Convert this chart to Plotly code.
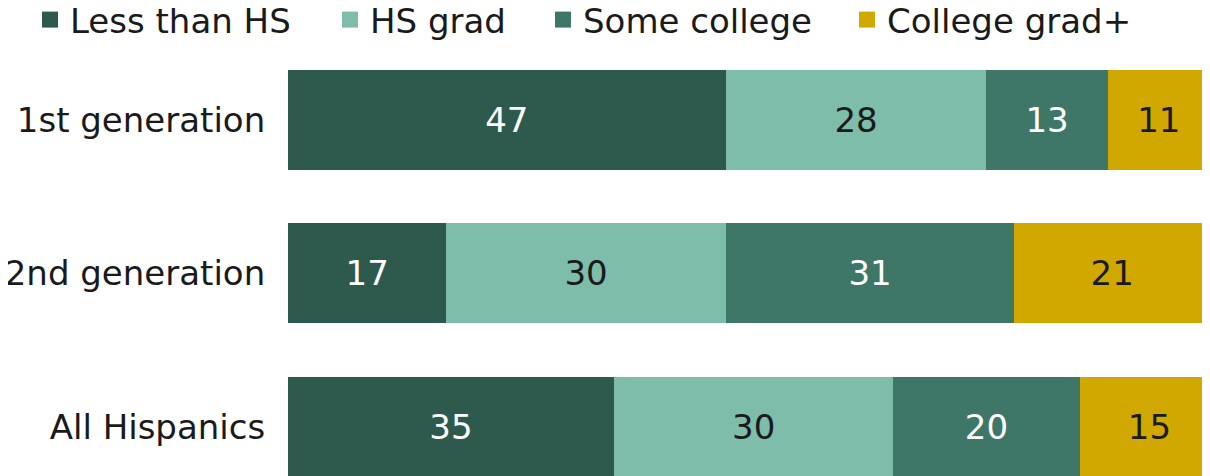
import plotly.graph_objects as go

categories = ["1st generation", "2nd generation", "All Hispanics"]
series_names = ["Less than HS", "HS grad", "Some college", "College grad+"]
less_than_hs = [47, 17, 35]
hs_grad = [28, 30, 30]
some_college = [13, 31, 20]
college_grad = [11, 21, 15]

colors = ["#2D5A4D", "#7DBDAA", "#3E7767", "#D1A800"]
label_colors = ["white", "#1a1a1a", "white", "#1a1a1a"]
font_family = "Verdana, DejaVu Sans, sans-serif"
FS = 34

fig = go.Figure()
for name, vals, col, lcol in zip(series_names,
                                 [less_than_hs, hs_grad, some_college, college_grad],
                                 colors, label_colors):
    fig.add_trace(go.Bar(
        y=categories, x=vals, name=name, orientation="h",
        marker=dict(color=col, line=dict(width=0)),
        text=vals, textposition="inside", insidetextanchor="middle",
        textangle=0, textfont=dict(color=lcol, size=FS, family=font_family),
        hoverinfo="skip", showlegend=False,
    ))

# one legend per entry, so each swatch sits where the reference has it
legend_ids = ["legend", "legend2", "legend3", "legend4"]
legend_x = [22, 322, 535, 839]
for name, col, lid in zip(series_names, colors, legend_ids):
    fig.add_trace(go.Scatter(
        x=[None], y=[None], mode="markers", name=name, legend=lid,
        marker=dict(symbol="square", size=18, color=col),
        hoverinfo="skip",
    ))

fig.update_layout(
    width=1210, height=476,
    barmode="stack", bargap=0.35,
    plot_bgcolor="white", paper_bgcolor="white",
    margin=dict(l=280, r=8, t=35, b=8, autoexpand=False),
    font=dict(family=font_family, size=FS, color="#1a1a1a"),
    showlegend=True,
)
for lid, lx in zip(legend_ids, legend_x):
    fig.update_layout({lid: dict(
        orientation="h", xref="container", yref="container",
        x=lx / 1210, y=1 - 12 / 476, xanchor="left", yanchor="middle",
        font=dict(size=FS), itemwidth=30, itemsizing="trace",
        bgcolor="rgba(0,0,0,0)",
    )})

fig.update_xaxes(range=[0, 99], visible=False, fixedrange=True)
fig.update_yaxes(
    categoryorder="array", categoryarray=categories,
    range=[2.32, -0.5], showgrid=False, zeroline=False, showline=False,
    ticks="outside", ticklen=15, tickcolor="rgba(0,0,0,0)",
    tickfont=dict(size=FS), fixedrange=True,
)

fig.write_html("out.html")
